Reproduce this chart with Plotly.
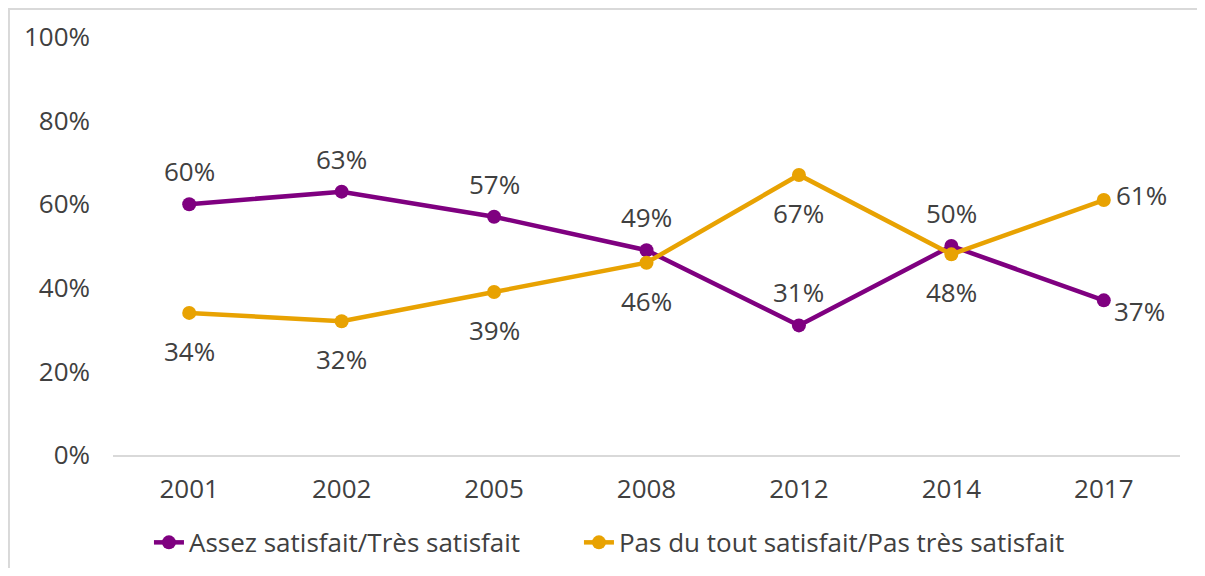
import plotly.graph_objects as go

years = ["2001", "2002", "2005", "2008", "2012", "2014", "2017"]
satisfied = [60, 63, 57, 49, 31, 50, 37]
unsatisfied = [34, 32, 39, 46, 67, 48, 61]
series_names = ["Assez satisfait/Très satisfait", "Pas du tout satisfait/Pas très satisfait"]
y_ticks = [0, 20, 40, 60, 80, 100]

purple = "#7F0080"
orange = "#E8A202"
text_color = "#404040"
FONT = "Open Sans"
FS = 26

fig = go.Figure()
fig.add_trace(go.Scatter(x=years, y=satisfied, mode="lines+markers", name=series_names[0],
                         line=dict(color=purple, width=4.5), marker=dict(size=14, color=purple),
                         legend="legend"))
fig.add_trace(go.Scatter(x=years, y=unsatisfied, mode="lines+markers", name=series_names[1],
                         line=dict(color=orange, width=4.5), marker=dict(size=14, color=orange),
                         legend="legend2"))

annotations = []
n = len(years)
for i, v in enumerate(satisfied):
    if i == n - 1:
        annotations.append(dict(x=i, y=v, text=f"{v}%", xshift=36, yshift=-11))
    else:
        annotations.append(dict(x=i, y=v, text=f"{v}%", yshift=33))
for i, v in enumerate(unsatisfied):
    if i == n - 1:
        annotations.append(dict(x=i, y=v, text=f"{v}%", xshift=38, yshift=5))
    else:
        annotations.append(dict(x=i, y=v, text=f"{v}%", yshift=-38))
for a in annotations:
    a.update(xref="x", yref="y", showarrow=False,
             font=dict(family=FONT, size=FS, color=text_color))

legend_common = dict(orientation="h", xanchor="left", yanchor="top", y=-0.153,
                     font=dict(family=FONT, size=FS, color=text_color),
                     bgcolor="rgba(0,0,0,0)")

fig.update_layout(
    width=1189, height=560,
    margin=dict(l=105, r=17, t=29, b=113, pad=0, autoexpand=False),
    paper_bgcolor="white", plot_bgcolor="white",
    font=dict(family=FONT, size=FS, color=text_color),
    annotations=annotations,
    showlegend=True,
    legend=dict(x=0.0337, **legend_common),
    legend2=dict(x=0.4367, **legend_common),
    xaxis=dict(type="category", range=[-0.5, 6.5], showgrid=False, showline=True,
               linecolor="#D9D9D9", linewidth=2, ticks="", ticklabelstandoff=10,
               tickfont=dict(size=FS, color=text_color), zeroline=False),
    yaxis=dict(range=[0, 100], tickvals=y_ticks, ticktext=[f"{t}%" for t in y_ticks],
               showgrid=False, showline=False, zeroline=False, ticks="",
               ticklabelstandoff=22, tickfont=dict(size=FS, color=text_color)),
    shapes=[dict(type="rect", xref="paper", yref="paper", x0=-0.0975, x1=1.5, y0=-1, y1=1.067,
                 line=dict(color="#D9D9D9", width=2), fillcolor="rgba(0,0,0,0)", layer="below")],
)

fig.write_html("out.html")
